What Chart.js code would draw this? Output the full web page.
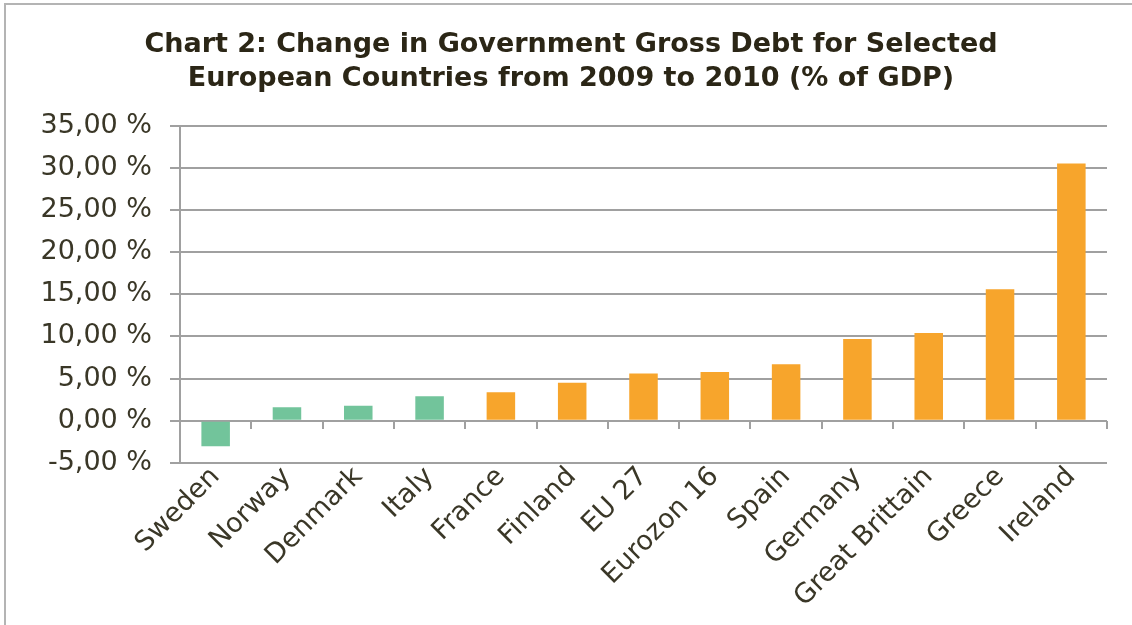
<!DOCTYPE html>
<html>
<head>
<meta charset="utf-8">
<title>Government Gross Debt</title>
<script src="https://cdn.jsdelivr.net/npm/chart.js@4.4.1/dist/chart.umd.min.js"></script>
<style>
  html, body { margin: 0; padding: 0; background: #fff; overflow: hidden; }
  #frame {
    position: absolute; left: 4px; top: 3px; width: 1128px; height: 622px;
    box-sizing: border-box;
    border-top: 2px solid #b4b4b4;
    border-left: 2px solid #b4b4b4;
  }
  #wrap { position: absolute; left: 0; top: 0; width: 1132px; height: 625px; }
</style>
</head>
<body>
<div id="frame"></div>
<div id="wrap"><canvas id="debtChart" width="1132" height="625"></canvas></div>
<script>
// change in gross debt 2009 -> 2010, % of GDP
const countries = ['Sweden', 'Norway', 'Denmark', 'Italy', 'France', 'Finland', 'EU 27',
  'Eurozon 16', 'Spain', 'Germany', 'Great Brittain', 'Greece', 'Ireland'];
const debtChange = [-3.0, 1.6, 1.8, 2.9, 3.4, 4.5, 5.6, 5.8, 6.7, 9.7, 10.4, 15.6, 30.5];
// non-euro countries are shown in green
const nonEuro = ['Sweden', 'Norway', 'Denmark', 'Italy'];
const yTicks = [-5, 0, 5, 10, 15, 20, 25, 30, 35];
const titleLines = ['Chart 2: Change in Government Gross Debt for Selected',
  'European Countries from 2009 to 2010 (% of GDP)'];

const GREEN = '#72c49b';
const ORANGE = '#f7a52c';
const GRID = '#a0a0a0';
const TEXT = '#3a3727';

// category axis at the zero line, with tick marks between the bars
const zeroAxis = {
  id: 'zeroAxis',
  beforeDatasetsDraw(chart) {
    const { ctx, chartArea, scales: { x, y } } = chart;
    const y0 = Math.round(y.getPixelForValue(0));
    const step = (chartArea.right - chartArea.left) / countries.length;
    ctx.save();
    ctx.strokeStyle = GRID;
    ctx.lineWidth = 2;
    ctx.beginPath();
    ctx.moveTo(chartArea.left, y0);
    ctx.lineTo(chartArea.right, y0);
    for (let i = 1; i <= countries.length; i++) {
      const px = Math.round(x.getPixelForValue(i - 1) + step / 2);
      ctx.moveTo(px, y0);
      ctx.lineTo(px, y0 + 8);
    }
    ctx.stroke();
    ctx.restore();
  }
};

new Chart(document.getElementById('debtChart'), {
  type: 'bar',
  data: {
    labels: countries,
    datasets: [{
      data: debtChange,
      backgroundColor: countries.map(c => nonEuro.includes(c) ? GREEN : ORANGE),
      categoryPercentage: 1,
      barPercentage: 0.4
    }]
  },
  options: {
    responsive: false,
    animation: false,
    layout: { padding: { left: 35, right: 25, top: 0, bottom: 2 } },
    plugins: {
      legend: { display: false },
      tooltip: { enabled: false },
      title: {
        display: true,
        text: titleLines,
        color: '#2b2616',
        font: { family: 'DejaVu Sans', weight: 'bold', size: 27, lineHeight: 1.25 },
        padding: { top: 28, bottom: 30 }
      }
    },
    scales: {
      x: {
        grid: { display: false },
        border: { display: false },
        ticks: {
          color: TEXT,
          font: { family: 'DejaVu Sans', size: 27 },
          minRotation: 45,
          maxRotation: 45,
          autoSkip: false,
          padding: -10
        },
        afterFit(s) { s.height = 160; }
      },
      y: {
        min: -5,
        max: 35,
        afterBuildTicks(s) { s.ticks = yTicks.map(v => ({ value: v })); },
        grid: { color: GRID, lineWidth: 2, tickLength: 10 },
        border: { color: GRID, width: 2 },
        ticks: {
          color: TEXT,
          font: { family: 'DejaVu Sans', size: 27 },
          padding: 18,
          callback: v => v.toFixed(2).replace('.', ',') + ' %'
        },
        afterFit(s) { s.width = 145; }
      }
    }
  },
  plugins: [zeroAxis]
});
</script>
</body>
</html>
